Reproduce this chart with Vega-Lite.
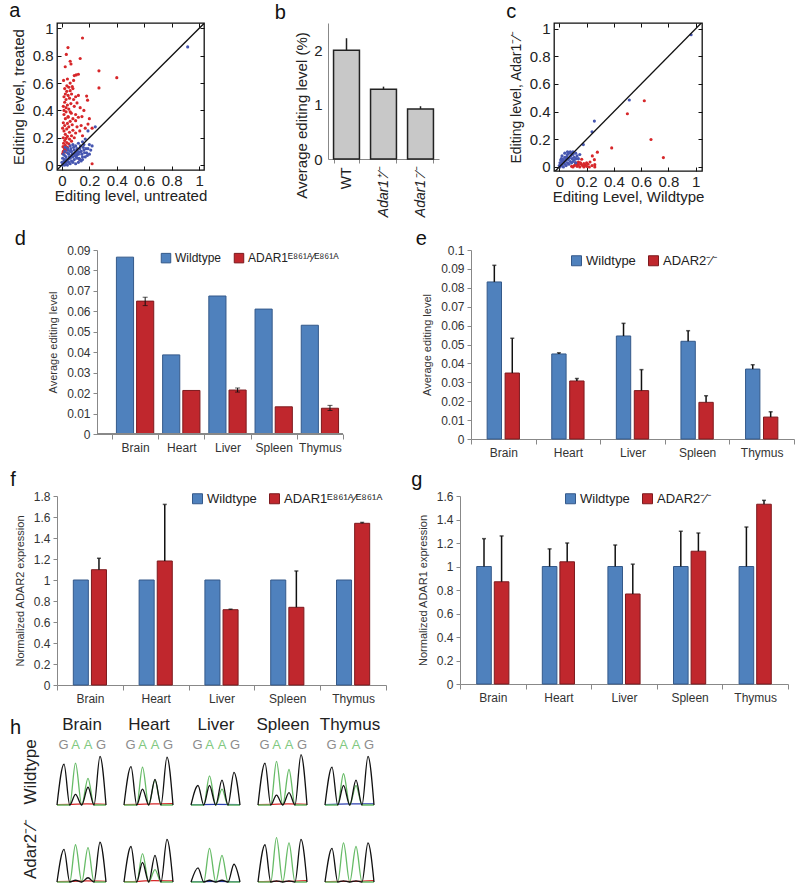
{
"$schema":"https://vega.github.io/schema/vega-lite/v6.json",
"padding":{"left":8,"top":0,"right":4,"bottom":2},
"config":{"font":"Liberation Sans","view":{"stroke":null},"axis":{"grid":false,"labelColor":"#222","titleColor":"#222","titleFontWeight":"normal"},"title":{"fontWeight":"normal","color":"#111"}},
"datasets":{
"sa":[{"x":0.15,"y":0.93,"g":"r"},{"x":0.044,"y":0.86,"g":"r"},{"x":0.032,"y":0.81,"g":"r"},{"x":0.06,"y":0.76,"g":"r"},{"x":0.066,"y":0.74,"g":"r"},{"x":0.133,"y":0.78,"g":"r"},{"x":0.024,"y":0.72,"g":"r"},{"x":0.104,"y":0.66,"g":"r"},{"x":0.12,"y":0.665,"g":"r"},{"x":0.09,"y":0.655,"g":"r"},{"x":0.27,"y":0.69,"g":"r"},{"x":0.4,"y":0.64,"g":"r"},{"x":0.012,"y":0.62,"g":"r"},{"x":0.06,"y":0.6,"g":"r"},{"x":0.27,"y":0.565,"g":"r"},{"x":0.036,"y":0.58,"g":"r"},{"x":0.05,"y":0.57,"g":"r"},{"x":0.075,"y":0.575,"g":"r"},{"x":0.02,"y":0.56,"g":"r"},{"x":0.035,"y":0.54,"g":"r"},{"x":0.06,"y":0.545,"g":"r"},{"x":0.025,"y":0.52,"g":"r"},{"x":0.045,"y":0.51,"g":"r"},{"x":0.015,"y":0.5,"g":"r"},{"x":0.03,"y":0.48,"g":"r"},{"x":0.055,"y":0.49,"g":"r"},{"x":0.12,"y":0.51,"g":"r"},{"x":0.18,"y":0.505,"g":"r"},{"x":0.187,"y":0.475,"g":"r"},{"x":0.085,"y":0.48,"g":"r"},{"x":0.11,"y":0.455,"g":"r"},{"x":0.02,"y":0.46,"g":"r"},{"x":0.04,"y":0.44,"g":"r"},{"x":0.065,"y":0.45,"g":"r"},{"x":0.01,"y":0.43,"g":"r"},{"x":0.03,"y":0.42,"g":"r"},{"x":0.133,"y":0.42,"g":"r"},{"x":0.05,"y":0.41,"g":"r"},{"x":0.068,"y":0.38,"g":"r"},{"x":0.1,"y":0.37,"g":"r"},{"x":0.03,"y":0.39,"g":"r"},{"x":0.015,"y":0.37,"g":"r"},{"x":0.146,"y":0.355,"g":"r"},{"x":0.12,"y":0.35,"g":"r"},{"x":0.045,"y":0.355,"g":"r"},{"x":0.08,"y":0.34,"g":"r"},{"x":0.025,"y":0.34,"g":"r"},{"x":0.06,"y":0.32,"g":"r"},{"x":0.1,"y":0.325,"g":"r"},{"x":0.01,"y":0.31,"g":"r"},{"x":0.04,"y":0.305,"g":"r"},{"x":0.19,"y":0.3,"g":"r"},{"x":0.075,"y":0.295,"g":"r"},{"x":0.02,"y":0.29,"g":"r"},{"x":0.05,"y":0.28,"g":"r"},{"x":0.17,"y":0.27,"g":"r"},{"x":0.11,"y":0.28,"g":"r"},{"x":0.035,"y":0.265,"g":"r"},{"x":0.08,"y":0.255,"g":"r"},{"x":0.13,"y":0.25,"g":"r"},{"x":0.015,"y":0.25,"g":"r"},{"x":0.055,"y":0.24,"g":"r"},{"x":0.1,"y":0.235,"g":"r"},{"x":0.025,"y":0.225,"g":"r"},{"x":0.07,"y":0.215,"g":"r"},{"x":0.04,"y":0.21,"g":"r"},{"x":0.15,"y":0.215,"g":"r"},{"x":0.01,"y":0.2,"g":"r"},{"x":0.09,"y":0.2,"g":"r"},{"x":0.03,"y":0.195,"g":"r"},{"x":0.055,"y":0.19,"g":"r"},{"x":0.02,"y":0.18,"g":"r"},{"x":0.07,"y":0.175,"g":"r"},{"x":0.035,"y":0.165,"g":"r"},{"x":0.012,"y":0.16,"g":"r"},{"x":0.05,"y":0.155,"g":"r"},{"x":0.025,"y":0.145,"g":"r"},{"x":0.008,"y":0.135,"g":"r"},{"x":0.04,"y":0.13,"g":"r"},{"x":0.018,"y":0.12,"g":"r"},{"x":0.03,"y":0.11,"g":"r"},{"x":0.01,"y":0.1,"g":"r"},{"x":0.022,"y":0.095,"g":"r"},{"x":0.005,"y":0.085,"g":"r"},{"x":0.22,"y":0.01,"g":"r"},{"x":0.13,"y":0.04,"g":"r"},{"x":0.085,"y":0.62,"g":"r"},{"x":0.04,"y":0.63,"g":"r"},{"x":0.07,"y":0.52,"g":"r"},{"x":0.09,"y":0.43,"g":"r"},{"x":0.16,"y":0.4,"g":"r"},{"x":0.2,"y":0.34,"g":"r"},{"x":0.14,"y":0.29,"g":"r"},{"x":0.22,"y":0.27,"g":"r"},{"x":0.08,"y":0.56,"g":"r"},{"x":0.1,"y":0.5,"g":"r"},{"x":0.015,"y":0.4,"g":"r"},{"x":0.06,"y":0.39,"g":"r"},{"x":0.005,"y":0.27,"g":"r"},{"x":0.045,"y":0.35,"g":"r"},
{"x":0.917,"y":0.865,"g":"b"},{"x":0.19,"y":0.25,"g":"b"},{"x":0.243,"y":0.28,"g":"b"},{"x":0.22,"y":0.14,"g":"b"},{"x":0.17,"y":0.19,"g":"b"},{"x":0.15,"y":0.17,"g":"b"},{"x":0.12,"y":0.16,"g":"b"},{"x":0.1,"y":0.14,"g":"b"},{"x":0.08,"y":0.15,"g":"b"},{"x":0.06,"y":0.14,"g":"b"},{"x":0.04,"y":0.12,"g":"b"},{"x":0.02,"y":0.1,"g":"b"},{"x":0.01,"y":0.08,"g":"b"},{"x":0.005,"y":0.05,"g":"b"},{"x":0.0,"y":0.02,"g":"b"},{"x":0.02,"y":0.04,"g":"b"},{"x":0.03,"y":0.06,"g":"b"},{"x":0.05,"y":0.08,"g":"b"},{"x":0.07,"y":0.1,"g":"b"},{"x":0.09,"y":0.11,"g":"b"},{"x":0.11,"y":0.12,"g":"b"},{"x":0.13,"y":0.12,"g":"b"},{"x":0.14,"y":0.1,"g":"b"},{"x":0.16,"y":0.11,"g":"b"},{"x":0.18,"y":0.09,"g":"b"},{"x":0.2,"y":0.08,"g":"b"},{"x":0.15,"y":0.06,"g":"b"},{"x":0.12,"y":0.08,"g":"b"},{"x":0.1,"y":0.09,"g":"b"},{"x":0.08,"y":0.06,"g":"b"},{"x":0.06,"y":0.05,"g":"b"},{"x":0.04,"y":0.03,"g":"b"},{"x":0.03,"y":0.01,"g":"b"},{"x":0.05,"y":0.02,"g":"b"},{"x":0.07,"y":0.03,"g":"b"},{"x":0.09,"y":0.04,"g":"b"},{"x":0.11,"y":0.05,"g":"b"},{"x":0.13,"y":0.04,"g":"b"},{"x":0.17,"y":0.06,"g":"b"},{"x":0.14,"y":0.03,"g":"b"},{"x":0.12,"y":0.02,"g":"b"},{"x":0.1,"y":0.01,"g":"b"},{"x":0.08,"y":0.02,"g":"b"},{"x":0.06,"y":0.1,"g":"b"},{"x":0.04,"y":0.09,"g":"b"},{"x":0.02,"y":0.07,"g":"b"},{"x":0.015,"y":0.03,"g":"b"},{"x":0.035,"y":0.04,"g":"b"},{"x":0.055,"y":0.06,"g":"b"},{"x":0.075,"y":0.08,"g":"b"},{"x":0.095,"y":0.07,"g":"b"},{"x":0.115,"y":0.1,"g":"b"},{"x":0.135,"y":0.14,"g":"b"},{"x":0.155,"y":0.13,"g":"b"},{"x":0.175,"y":0.12,"g":"b"},{"x":0.025,"y":0.13,"g":"b"},{"x":0.045,"y":0.11,"g":"b"},{"x":0.065,"y":0.12,"g":"b"},{"x":0.085,"y":0.13,"g":"b"},{"x":0.105,"y":0.06,"g":"b"},{"x":0.125,"y":0.05,"g":"b"},{"x":0.145,"y":0.08,"g":"b"},{"x":0.165,"y":0.09,"g":"b"},{"x":0.185,"y":0.07,"g":"b"},{"x":0.21,"y":0.11,"g":"b"},{"x":0.01,"y":0.01,"g":"b"},{"x":0.005,"y":0.0,"g":"b"},{"x":0.02,"y":0.0,"g":"b"},{"x":0.04,"y":0.0,"g":"b"},{"x":0.06,"y":0.01,"g":"b"},{"x":0.03,"y":0.025,"g":"b"},{"x":0.05,"y":0.045,"g":"b"},{"x":0.07,"y":0.065,"g":"b"},{"x":0.09,"y":0.085,"g":"b"},{"x":0.11,"y":0.075,"g":"b"},{"x":0.13,"y":0.095,"g":"b"},{"x":0.15,"y":0.04,"g":"b"},{"x":0.19,"y":0.12,"g":"b"},{"x":0.2,"y":0.15,"g":"b"},{"x":0.16,"y":0.15,"g":"b"}],
"sc":[{"x":0.623,"y":0.479,"g":"r"},{"x":0.499,"y":0.385,"g":"r"},{"x":0.672,"y":0.199,"g":"r"},{"x":0.763,"y":0.068,"g":"r"},{"x":0.384,"y":0.138,"g":"r"},{"x":0.279,"y":0.107,"g":"r"},{"x":0.242,"y":0.08,"g":"r"},{"x":0.257,"y":0.053,"g":"r"},{"x":0.225,"y":0.036,"g":"r"},{"x":0.26,"y":0.017,"g":"r"},{"x":0.164,"y":0.056,"g":"r"},{"x":0.1,"y":0.0,"g":"r"},{"x":0.11,"y":0.01,"g":"r"},{"x":0.12,"y":0.02,"g":"r"},{"x":0.13,"y":0.005,"g":"r"},{"x":0.14,"y":0.015,"g":"r"},{"x":0.15,"y":0.0,"g":"r"},{"x":0.16,"y":0.02,"g":"r"},{"x":0.17,"y":0.01,"g":"r"},{"x":0.18,"y":0.0,"g":"r"},{"x":0.19,"y":0.015,"g":"r"},{"x":0.2,"y":0.005,"g":"r"},{"x":0.21,"y":0.02,"g":"r"},{"x":0.22,"y":0.0,"g":"r"},{"x":0.12,"y":0.03,"g":"r"},{"x":0.14,"y":0.035,"g":"r"},{"x":0.155,"y":0.03,"g":"r"},{"x":0.18,"y":0.025,"g":"r"},{"x":0.2,"y":0.03,"g":"r"},{"x":0.26,"y":0.0,"g":"r"},{"x":0.24,"y":0.01,"g":"r"},{"x":0.09,"y":0.005,"g":"r"},{"x":0.13,"y":0.025,"g":"r"},
{"x":0.966,"y":0.956,"g":"b"},{"x":0.513,"y":0.484,"g":"b"},{"x":0.257,"y":0.332,"g":"b"},{"x":0.24,"y":0.254,"g":"b"},{"x":0.176,"y":0.162,"g":"b"},{"x":0.005,"y":0.0,"g":"b"},{"x":0.01,"y":0.02,"g":"b"},{"x":0.02,"y":0.04,"g":"b"},{"x":0.015,"y":0.06,"g":"b"},{"x":0.03,"y":0.05,"g":"b"},{"x":0.04,"y":0.07,"g":"b"},{"x":0.05,"y":0.06,"g":"b"},{"x":0.06,"y":0.09,"g":"b"},{"x":0.07,"y":0.1,"g":"b"},{"x":0.08,"y":0.11,"g":"b"},{"x":0.09,"y":0.1,"g":"b"},{"x":0.1,"y":0.09,"g":"b"},{"x":0.12,"y":0.1,"g":"b"},{"x":0.13,"y":0.08,"g":"b"},{"x":0.15,"y":0.09,"g":"b"},{"x":0.14,"y":0.06,"g":"b"},{"x":0.11,"y":0.05,"g":"b"},{"x":0.08,"y":0.04,"g":"b"},{"x":0.06,"y":0.03,"g":"b"},{"x":0.04,"y":0.02,"g":"b"},{"x":0.02,"y":0.01,"g":"b"},{"x":0.03,"y":0.0,"g":"b"},{"x":0.05,"y":0.01,"g":"b"},{"x":0.07,"y":0.02,"g":"b"},{"x":0.09,"y":0.03,"g":"b"},{"x":0.1,"y":0.04,"g":"b"},{"x":0.12,"y":0.03,"g":"b"},{"x":0.015,"y":0.03,"g":"b"},{"x":0.025,"y":0.055,"g":"b"},{"x":0.035,"y":0.035,"g":"b"},{"x":0.045,"y":0.045,"g":"b"},{"x":0.055,"y":0.075,"g":"b"},{"x":0.065,"y":0.055,"g":"b"},{"x":0.075,"y":0.065,"g":"b"},{"x":0.085,"y":0.08,"g":"b"},{"x":0.095,"y":0.06,"g":"b"},{"x":0.11,"y":0.07,"g":"b"},{"x":0.125,"y":0.06,"g":"b"},{"x":0.02,"y":0.08,"g":"b"},{"x":0.01,"y":0.05,"g":"b"},{"x":0.04,"y":0.1,"g":"b"},{"x":0.06,"y":0.11,"g":"b"},{"x":0.1,"y":0.11,"g":"b"},{"x":0.005,"y":0.03,"g":"b"},{"x":0.0,"y":0.01,"g":"b"}],
"sb":[{"g":"WT","v":2.0,"hi":2.22},{"g":"Adar1⁺⁄⁻","v":1.28,"hi":1.33},{"g":"Adar1⁻⁄⁻","v":0.92,"hi":0.97}],
"sd":[{"t":"Brain","g":"Wildtype","v":0.0865},{"t":"Brain","g":"ADAR1","v":0.065,"lo":0.0628,"hi":0.0669},{"t":"Heart","g":"Wildtype","v":0.0387},{"t":"Heart","g":"ADAR1","v":0.0213},{"t":"Liver","g":"Wildtype","v":0.0675},{"t":"Liver","g":"ADAR1","v":0.0215,"lo":0.0205,"hi":0.0225},{"t":"Spleen","g":"Wildtype","v":0.0611},{"t":"Spleen","g":"ADAR1","v":0.0133},{"t":"Thymus","g":"Wildtype","v":0.0532},{"t":"Thymus","g":"ADAR1","v":0.0126,"lo":0.0115,"hi":0.014}],
"se":[{"t":"Brain","g":"Wildtype","v":0.0831,"hi":0.0919},{"t":"Brain","g":"ADAR2","v":0.0349,"hi":0.0533},{"t":"Heart","g":"Wildtype","v":0.045,"hi":0.0456},{"t":"Heart","g":"ADAR2","v":0.0307,"hi":0.032},{"t":"Liver","g":"Wildtype","v":0.0545,"hi":0.0612},{"t":"Liver","g":"ADAR2","v":0.0256,"hi":0.0367},{"t":"Spleen","g":"Wildtype","v":0.0517,"hi":0.0573},{"t":"Spleen","g":"ADAR2","v":0.0194,"hi":0.0229},{"t":"Thymus","g":"Wildtype","v":0.037,"hi":0.0393},{"t":"Thymus","g":"ADAR2","v":0.0116,"hi":0.0144}],
"sf":[{"t":"Brain","g":"Wildtype","v":1.0},{"t":"Brain","g":"ADAR1","v":1.098,"hi":1.207},{"t":"Heart","g":"Wildtype","v":1.0},{"t":"Heart","g":"ADAR1","v":1.181,"hi":1.72},{"t":"Liver","g":"Wildtype","v":1.0},{"t":"Liver","g":"ADAR1","v":0.717,"hi":0.722},{"t":"Spleen","g":"Wildtype","v":1.0},{"t":"Spleen","g":"ADAR1","v":0.74,"hi":1.086},{"t":"Thymus","g":"Wildtype","v":1.0},{"t":"Thymus","g":"ADAR1","v":1.54,"hi":1.548}],
"sg":[{"t":"Brain","g":"Wildtype","v":1.0,"hi":1.237},{"t":"Brain","g":"ADAR2","v":0.87,"hi":1.26},{"t":"Heart","g":"Wildtype","v":1.0,"hi":1.15},{"t":"Heart","g":"ADAR2","v":1.04,"hi":1.2},{"t":"Liver","g":"Wildtype","v":1.0,"hi":1.183},{"t":"Liver","g":"ADAR2","v":0.766,"hi":1.02},{"t":"Spleen","g":"Wildtype","v":1.0,"hi":1.3},{"t":"Spleen","g":"ADAR2","v":1.13,"hi":1.285},{"t":"Thymus","g":"Wildtype","v":1.0,"hi":1.336},{"t":"Thymus","g":"ADAR2","v":1.53,"hi":1.563}],
"sh":[
{"k":"tr","ti":"Brain","ge":"W","ch":"T","t":0,"v":1},{"k":"tr","ti":"Brain","ge":"W","ch":"T","t":3,"v":2},{"k":"tr","ti":"Brain","ge":"W","ch":"T","t":6,"v":3},{"k":"tr","ti":"Brain","ge":"W","ch":"T","t":9.8,"v":2},
{"k":"tr","ti":"Brain","ge":"W","ch":"A","t":0,"v":0},{"k":"tr","ti":"Brain","ge":"W","ch":"A","t":2.55,"v":0},{"k":"tr","ti":"Brain","ge":"W","ch":"A","t":3.7,"v":118},{"k":"tr","ti":"Brain","ge":"W","ch":"A","t":4.95,"v":0},{"k":"tr","ti":"Brain","ge":"W","ch":"A","t":6.2,"v":75},{"k":"tr","ti":"Brain","ge":"W","ch":"A","t":7.4,"v":0},{"k":"tr","ti":"Brain","ge":"W","ch":"A","t":9.8,"v":0},
{"k":"tr","ti":"Brain","ge":"W","ch":"G","t":0,"v":0},{"k":"tr","ti":"Brain","ge":"W","ch":"G","t":1.4,"v":115},{"k":"tr","ti":"Brain","ge":"W","ch":"G","t":2.55,"v":0},{"k":"tr","ti":"Brain","ge":"W","ch":"G","t":3.7,"v":30},{"k":"tr","ti":"Brain","ge":"W","ch":"G","t":4.95,"v":0},{"k":"tr","ti":"Brain","ge":"W","ch":"G","t":6.2,"v":50},{"k":"tr","ti":"Brain","ge":"W","ch":"G","t":7.4,"v":0},{"k":"tr","ti":"Brain","ge":"W","ch":"G","t":8.6,"v":137},{"k":"tr","ti":"Brain","ge":"W","ch":"G","t":9.8,"v":0},
{"k":"tr","ti":"Heart","ge":"W","ch":"T","t":0,"v":1},{"k":"tr","ti":"Heart","ge":"W","ch":"T","t":3,"v":2},{"k":"tr","ti":"Heart","ge":"W","ch":"T","t":6,"v":3},{"k":"tr","ti":"Heart","ge":"W","ch":"T","t":9.8,"v":4},
{"k":"tr","ti":"Heart","ge":"W","ch":"A","t":0,"v":0},{"k":"tr","ti":"Heart","ge":"W","ch":"A","t":2.55,"v":0},{"k":"tr","ti":"Heart","ge":"W","ch":"A","t":3.7,"v":107},{"k":"tr","ti":"Heart","ge":"W","ch":"A","t":4.95,"v":0},{"k":"tr","ti":"Heart","ge":"W","ch":"A","t":6.2,"v":70},{"k":"tr","ti":"Heart","ge":"W","ch":"A","t":7.4,"v":0},{"k":"tr","ti":"Heart","ge":"W","ch":"A","t":9.8,"v":0},
{"k":"tr","ti":"Heart","ge":"W","ch":"G","t":0,"v":0},{"k":"tr","ti":"Heart","ge":"W","ch":"G","t":1.4,"v":108},{"k":"tr","ti":"Heart","ge":"W","ch":"G","t":2.55,"v":0},{"k":"tr","ti":"Heart","ge":"W","ch":"G","t":3.7,"v":45},{"k":"tr","ti":"Heart","ge":"W","ch":"G","t":4.95,"v":0},{"k":"tr","ti":"Heart","ge":"W","ch":"G","t":6.2,"v":72},{"k":"tr","ti":"Heart","ge":"W","ch":"G","t":7.4,"v":0},{"k":"tr","ti":"Heart","ge":"W","ch":"G","t":8.6,"v":135},{"k":"tr","ti":"Heart","ge":"W","ch":"G","t":9.8,"v":0},
{"k":"tr","ti":"Liver","ge":"W","ch":"C","t":0,"v":1},{"k":"tr","ti":"Liver","ge":"W","ch":"C","t":5,"v":1.5},{"k":"tr","ti":"Liver","ge":"W","ch":"C","t":9.8,"v":1},
{"k":"tr","ti":"Liver","ge":"W","ch":"A","t":0,"v":0},{"k":"tr","ti":"Liver","ge":"W","ch":"A","t":2.55,"v":0},{"k":"tr","ti":"Liver","ge":"W","ch":"A","t":3.7,"v":82},{"k":"tr","ti":"Liver","ge":"W","ch":"A","t":4.95,"v":0},{"k":"tr","ti":"Liver","ge":"W","ch":"A","t":6.2,"v":45},{"k":"tr","ti":"Liver","ge":"W","ch":"A","t":7.4,"v":0},{"k":"tr","ti":"Liver","ge":"W","ch":"A","t":9.8,"v":0},
{"k":"tr","ti":"Liver","ge":"W","ch":"G","t":0,"v":0},{"k":"tr","ti":"Liver","ge":"W","ch":"G","t":1.4,"v":55},{"k":"tr","ti":"Liver","ge":"W","ch":"G","t":2.55,"v":0},{"k":"tr","ti":"Liver","ge":"W","ch":"G","t":3.7,"v":55},{"k":"tr","ti":"Liver","ge":"W","ch":"G","t":4.95,"v":0},{"k":"tr","ti":"Liver","ge":"W","ch":"G","t":6.2,"v":70},{"k":"tr","ti":"Liver","ge":"W","ch":"G","t":7.4,"v":0},{"k":"tr","ti":"Liver","ge":"W","ch":"G","t":8.6,"v":92},{"k":"tr","ti":"Liver","ge":"W","ch":"G","t":9.8,"v":0},
{"k":"tr","ti":"Spleen","ge":"W","ch":"T","t":0,"v":1},{"k":"tr","ti":"Spleen","ge":"W","ch":"T","t":3,"v":2},{"k":"tr","ti":"Spleen","ge":"W","ch":"T","t":6,"v":3},{"k":"tr","ti":"Spleen","ge":"W","ch":"T","t":9.8,"v":2},
{"k":"tr","ti":"Spleen","ge":"W","ch":"A","t":0,"v":0},{"k":"tr","ti":"Spleen","ge":"W","ch":"A","t":2.55,"v":0},{"k":"tr","ti":"Spleen","ge":"W","ch":"A","t":3.7,"v":123},{"k":"tr","ti":"Spleen","ge":"W","ch":"A","t":4.95,"v":0},{"k":"tr","ti":"Spleen","ge":"W","ch":"A","t":6.2,"v":100},{"k":"tr","ti":"Spleen","ge":"W","ch":"A","t":7.4,"v":0},{"k":"tr","ti":"Spleen","ge":"W","ch":"A","t":9.8,"v":0},
{"k":"tr","ti":"Spleen","ge":"W","ch":"G","t":0,"v":0},{"k":"tr","ti":"Spleen","ge":"W","ch":"G","t":1.4,"v":118},{"k":"tr","ti":"Spleen","ge":"W","ch":"G","t":2.55,"v":0},{"k":"tr","ti":"Spleen","ge":"W","ch":"G","t":3.7,"v":28},{"k":"tr","ti":"Spleen","ge":"W","ch":"G","t":4.95,"v":0},{"k":"tr","ti":"Spleen","ge":"W","ch":"G","t":6.2,"v":35},{"k":"tr","ti":"Spleen","ge":"W","ch":"G","t":7.4,"v":0},{"k":"tr","ti":"Spleen","ge":"W","ch":"G","t":8.6,"v":142},{"k":"tr","ti":"Spleen","ge":"W","ch":"G","t":9.8,"v":0},
{"k":"tr","ti":"Thymus","ge":"W","ch":"C","t":0,"v":1},{"k":"tr","ti":"Thymus","ge":"W","ch":"C","t":5,"v":3},{"k":"tr","ti":"Thymus","ge":"W","ch":"C","t":9.8,"v":3},
{"k":"tr","ti":"Thymus","ge":"W","ch":"A","t":0,"v":0},{"k":"tr","ti":"Thymus","ge":"W","ch":"A","t":2.55,"v":0},{"k":"tr","ti":"Thymus","ge":"W","ch":"A","t":3.7,"v":88},{"k":"tr","ti":"Thymus","ge":"W","ch":"A","t":4.95,"v":0},{"k":"tr","ti":"Thymus","ge":"W","ch":"A","t":6.2,"v":55},{"k":"tr","ti":"Thymus","ge":"W","ch":"A","t":7.4,"v":0},{"k":"tr","ti":"Thymus","ge":"W","ch":"A","t":9.8,"v":0},
{"k":"tr","ti":"Thymus","ge":"W","ch":"G","t":0,"v":0},{"k":"tr","ti":"Thymus","ge":"W","ch":"G","t":1.4,"v":107},{"k":"tr","ti":"Thymus","ge":"W","ch":"G","t":2.55,"v":0},{"k":"tr","ti":"Thymus","ge":"W","ch":"G","t":3.7,"v":55},{"k":"tr","ti":"Thymus","ge":"W","ch":"G","t":4.95,"v":0},{"k":"tr","ti":"Thymus","ge":"W","ch":"G","t":6.2,"v":70},{"k":"tr","ti":"Thymus","ge":"W","ch":"G","t":7.4,"v":0},{"k":"tr","ti":"Thymus","ge":"W","ch":"G","t":8.6,"v":137},{"k":"tr","ti":"Thymus","ge":"W","ch":"G","t":9.8,"v":0},
{"k":"tr","ti":"Brain","ge":"K","ch":"T","t":0,"v":1},{"k":"tr","ti":"Brain","ge":"K","ch":"T","t":3,"v":2},{"k":"tr","ti":"Brain","ge":"K","ch":"T","t":6,"v":3},{"k":"tr","ti":"Brain","ge":"K","ch":"T","t":9.8,"v":2},
{"k":"tr","ti":"Brain","ge":"K","ch":"A","t":0,"v":0},{"k":"tr","ti":"Brain","ge":"K","ch":"A","t":2.55,"v":0},{"k":"tr","ti":"Brain","ge":"K","ch":"A","t":3.7,"v":105},{"k":"tr","ti":"Brain","ge":"K","ch":"A","t":4.95,"v":0},{"k":"tr","ti":"Brain","ge":"K","ch":"A","t":6.2,"v":97},{"k":"tr","ti":"Brain","ge":"K","ch":"A","t":7.4,"v":0},{"k":"tr","ti":"Brain","ge":"K","ch":"A","t":9.8,"v":0},
{"k":"tr","ti":"Brain","ge":"K","ch":"G","t":0,"v":0},{"k":"tr","ti":"Brain","ge":"K","ch":"G","t":1.4,"v":92},{"k":"tr","ti":"Brain","ge":"K","ch":"G","t":2.55,"v":0},{"k":"tr","ti":"Brain","ge":"K","ch":"G","t":3.7,"v":5},{"k":"tr","ti":"Brain","ge":"K","ch":"G","t":4.95,"v":0},{"k":"tr","ti":"Brain","ge":"K","ch":"G","t":6.2,"v":12},{"k":"tr","ti":"Brain","ge":"K","ch":"G","t":7.4,"v":0},{"k":"tr","ti":"Brain","ge":"K","ch":"G","t":8.6,"v":112},{"k":"tr","ti":"Brain","ge":"K","ch":"G","t":9.8,"v":0},
{"k":"tr","ti":"Heart","ge":"K","ch":"T","t":0,"v":1},{"k":"tr","ti":"Heart","ge":"K","ch":"T","t":3,"v":2},{"k":"tr","ti":"Heart","ge":"K","ch":"T","t":6,"v":4},{"k":"tr","ti":"Heart","ge":"K","ch":"T","t":9.8,"v":3},
{"k":"tr","ti":"Heart","ge":"K","ch":"A","t":0,"v":0},{"k":"tr","ti":"Heart","ge":"K","ch":"A","t":2.55,"v":0},{"k":"tr","ti":"Heart","ge":"K","ch":"A","t":3.7,"v":80},{"k":"tr","ti":"Heart","ge":"K","ch":"A","t":4.95,"v":0},{"k":"tr","ti":"Heart","ge":"K","ch":"A","t":6.2,"v":35},{"k":"tr","ti":"Heart","ge":"K","ch":"A","t":7.4,"v":0},{"k":"tr","ti":"Heart","ge":"K","ch":"A","t":9.8,"v":0},
{"k":"tr","ti":"Heart","ge":"K","ch":"G","t":0,"v":0},{"k":"tr","ti":"Heart","ge":"K","ch":"G","t":1.4,"v":100},{"k":"tr","ti":"Heart","ge":"K","ch":"G","t":2.55,"v":0},{"k":"tr","ti":"Heart","ge":"K","ch":"G","t":3.7,"v":55},{"k":"tr","ti":"Heart","ge":"K","ch":"G","t":4.95,"v":0},{"k":"tr","ti":"Heart","ge":"K","ch":"G","t":6.2,"v":75},{"k":"tr","ti":"Heart","ge":"K","ch":"G","t":7.4,"v":0},{"k":"tr","ti":"Heart","ge":"K","ch":"G","t":8.6,"v":120},{"k":"tr","ti":"Heart","ge":"K","ch":"G","t":9.8,"v":0},
{"k":"tr","ti":"Liver","ge":"K","ch":"C","t":0,"v":1},{"k":"tr","ti":"Liver","ge":"K","ch":"C","t":5,"v":2},{"k":"tr","ti":"Liver","ge":"K","ch":"C","t":9.8,"v":1},
{"k":"tr","ti":"Liver","ge":"K","ch":"A","t":0,"v":0},{"k":"tr","ti":"Liver","ge":"K","ch":"A","t":2.55,"v":0},{"k":"tr","ti":"Liver","ge":"K","ch":"A","t":3.7,"v":95},{"k":"tr","ti":"Liver","ge":"K","ch":"A","t":4.95,"v":0},{"k":"tr","ti":"Liver","ge":"K","ch":"A","t":6.2,"v":75},{"k":"tr","ti":"Liver","ge":"K","ch":"A","t":7.4,"v":0},{"k":"tr","ti":"Liver","ge":"K","ch":"A","t":9.8,"v":0},
{"k":"tr","ti":"Liver","ge":"K","ch":"G","t":0,"v":0},{"k":"tr","ti":"Liver","ge":"K","ch":"G","t":1.4,"v":40},{"k":"tr","ti":"Liver","ge":"K","ch":"G","t":2.55,"v":0},{"k":"tr","ti":"Liver","ge":"K","ch":"G","t":3.7,"v":5},{"k":"tr","ti":"Liver","ge":"K","ch":"G","t":4.95,"v":0},{"k":"tr","ti":"Liver","ge":"K","ch":"G","t":6.2,"v":5},{"k":"tr","ti":"Liver","ge":"K","ch":"G","t":7.4,"v":0},{"k":"tr","ti":"Liver","ge":"K","ch":"G","t":8.6,"v":50},{"k":"tr","ti":"Liver","ge":"K","ch":"G","t":9.8,"v":0},
{"k":"tr","ti":"Spleen","ge":"K","ch":"T","t":0,"v":1},{"k":"tr","ti":"Spleen","ge":"K","ch":"T","t":3,"v":2},{"k":"tr","ti":"Spleen","ge":"K","ch":"T","t":6,"v":2},{"k":"tr","ti":"Spleen","ge":"K","ch":"T","t":9.8,"v":4},
{"k":"tr","ti":"Spleen","ge":"K","ch":"A","t":0,"v":0},{"k":"tr","ti":"Spleen","ge":"K","ch":"A","t":2.55,"v":0},{"k":"tr","ti":"Spleen","ge":"K","ch":"A","t":3.7,"v":125},{"k":"tr","ti":"Spleen","ge":"K","ch":"A","t":4.95,"v":0},{"k":"tr","ti":"Spleen","ge":"K","ch":"A","t":6.2,"v":110},{"k":"tr","ti":"Spleen","ge":"K","ch":"A","t":7.4,"v":0},{"k":"tr","ti":"Spleen","ge":"K","ch":"A","t":9.8,"v":0},
{"k":"tr","ti":"Spleen","ge":"K","ch":"G","t":0,"v":0},{"k":"tr","ti":"Spleen","ge":"K","ch":"G","t":1.4,"v":105},{"k":"tr","ti":"Spleen","ge":"K","ch":"G","t":2.55,"v":0},{"k":"tr","ti":"Spleen","ge":"K","ch":"G","t":3.7,"v":3},{"k":"tr","ti":"Spleen","ge":"K","ch":"G","t":4.95,"v":0},{"k":"tr","ti":"Spleen","ge":"K","ch":"G","t":6.2,"v":3},{"k":"tr","ti":"Spleen","ge":"K","ch":"G","t":7.4,"v":0},{"k":"tr","ti":"Spleen","ge":"K","ch":"G","t":8.6,"v":120},{"k":"tr","ti":"Spleen","ge":"K","ch":"G","t":9.8,"v":0},
{"k":"tr","ti":"Thymus","ge":"K","ch":"T","t":0,"v":1},{"k":"tr","ti":"Thymus","ge":"K","ch":"T","t":3,"v":2},{"k":"tr","ti":"Thymus","ge":"K","ch":"T","t":6,"v":2},{"k":"tr","ti":"Thymus","ge":"K","ch":"T","t":9.8,"v":4},
{"k":"tr","ti":"Thymus","ge":"K","ch":"A","t":0,"v":0},{"k":"tr","ti":"Thymus","ge":"K","ch":"A","t":2.55,"v":0},{"k":"tr","ti":"Thymus","ge":"K","ch":"A","t":3.7,"v":110},{"k":"tr","ti":"Thymus","ge":"K","ch":"A","t":4.95,"v":0},{"k":"tr","ti":"Thymus","ge":"K","ch":"A","t":6.2,"v":100},{"k":"tr","ti":"Thymus","ge":"K","ch":"A","t":7.4,"v":0},{"k":"tr","ti":"Thymus","ge":"K","ch":"A","t":9.8,"v":0},
{"k":"tr","ti":"Thymus","ge":"K","ch":"G","t":0,"v":0},{"k":"tr","ti":"Thymus","ge":"K","ch":"G","t":1.4,"v":95},{"k":"tr","ti":"Thymus","ge":"K","ch":"G","t":2.55,"v":0},{"k":"tr","ti":"Thymus","ge":"K","ch":"G","t":3.7,"v":3},{"k":"tr","ti":"Thymus","ge":"K","ch":"G","t":4.95,"v":0},{"k":"tr","ti":"Thymus","ge":"K","ch":"G","t":6.2,"v":3},{"k":"tr","ti":"Thymus","ge":"K","ch":"G","t":7.4,"v":0},{"k":"tr","ti":"Thymus","ge":"K","ch":"G","t":8.6,"v":110},{"k":"tr","ti":"Thymus","ge":"K","ch":"G","t":9.8,"v":0},
{"k":"lt","ti":"Brain","ge":"W","t":1.3,"v":159,"lab":"G"},{"k":"lt","ti":"Brain","ge":"W","t":3.7,"v":159,"lab":"A"},{"k":"lt","ti":"Brain","ge":"W","t":6.2,"v":159,"lab":"A"},{"k":"lt","ti":"Brain","ge":"W","t":8.8,"v":159,"lab":"G"},
{"k":"lt","ti":"Heart","ge":"W","t":1.3,"v":159,"lab":"G"},{"k":"lt","ti":"Heart","ge":"W","t":3.7,"v":159,"lab":"A"},{"k":"lt","ti":"Heart","ge":"W","t":6.2,"v":159,"lab":"A"},{"k":"lt","ti":"Heart","ge":"W","t":8.8,"v":159,"lab":"G"},
{"k":"lt","ti":"Liver","ge":"W","t":1.3,"v":159,"lab":"G"},{"k":"lt","ti":"Liver","ge":"W","t":3.7,"v":159,"lab":"A"},{"k":"lt","ti":"Liver","ge":"W","t":6.2,"v":159,"lab":"A"},{"k":"lt","ti":"Liver","ge":"W","t":8.8,"v":159,"lab":"G"},
{"k":"lt","ti":"Spleen","ge":"W","t":1.3,"v":159,"lab":"G"},{"k":"lt","ti":"Spleen","ge":"W","t":3.7,"v":159,"lab":"A"},{"k":"lt","ti":"Spleen","ge":"W","t":6.2,"v":159,"lab":"A"},{"k":"lt","ti":"Spleen","ge":"W","t":8.8,"v":159,"lab":"G"},
{"k":"lt","ti":"Thymus","ge":"W","t":1.3,"v":159,"lab":"G"},{"k":"lt","ti":"Thymus","ge":"W","t":3.7,"v":159,"lab":"A"},{"k":"lt","ti":"Thymus","ge":"W","t":6.2,"v":159,"lab":"A"},{"k":"lt","ti":"Thymus","ge":"W","t":8.8,"v":159,"lab":"G"}
]
},
"columns":1,
"spacing":12,
"align":"none",
"resolve":{"scale":{"color":"independent","stroke":"independent","xOffset":"independent"}},
"concat":[
{"hconcat":[
 {"width":147,"height":147,
  "title":{"text":"a","anchor":"start","frame":"bounds","fontSize":20,"offset":0,"dx":-2},
  "view":{"stroke":"#111","strokeWidth":1.3},
  "layer":[
   {"data":{"name":"sa"},"mark":{"type":"circle","size":10,"opacity":1},
    "encoding":{
     "x":{"field":"x","type":"quantitative","scale":{"domain":[-0.036,1.036],"nice":false,"zero":false},"axis":{"orient":"bottom","values":[0,0.2,0.4,0.6,0.8,1],"format":"~g","domain":false,"tickSize":-4,"tickColor":"#111","labelFontSize":15,"labelPadding":7,"title":"Editing level, untreated","titleFontSize":15,"titlePadding":0}},
     "y":{"field":"y","type":"quantitative","scale":{"domain":[-0.036,1.04],"nice":false,"zero":false},"axis":{"orient":"left","values":[0,0.2,0.4,0.6,0.8,1],"format":"~g","domain":false,"tickSize":-4,"tickColor":"#111","labelFontSize":15,"labelPadding":8,"title":"Editing level, treated","titleFontSize":15,"titlePadding":6}},
     "color":{"field":"g","type":"nominal","scale":{"domain":["r","b"],"range":["#d7272a","#4656b0"]},"legend":null}}},
   {"data":{"values":[{"x":-0.036,"y":-0.036},{"x":1.036,"y":1.036}]},"mark":{"type":"line","color":"#111","strokeWidth":1.3,"clip":true},
    "encoding":{
     "x":{"field":"x","type":"quantitative","axis":{"orient":"top","values":[0,0.2,0.4,0.6,0.8,1],"labels":false,"domain":false,"tickSize":-4,"tickColor":"#111","title":null}},
     "y":{"field":"y","type":"quantitative","axis":{"orient":"right","values":[0,0.2,0.4,0.6,0.8,1],"labels":false,"domain":false,"tickSize":-4,"tickColor":"#111","title":null}}}}
  ],
  "resolve":{"axis":{"x":"independent","y":"independent"}}},
 {"width":111,"height":136,
  "title":{"text":"b","anchor":"start","frame":"bounds","fontSize":20,"offset":0,"dx":-20},
  "data":{"name":"sb"},
  "encoding":{"x":{"field":"g","type":"nominal","sort":null,"scale":{"paddingInner":0.3,"paddingOuter":0.15},
     "axis":{"title":null,"labelAngle":-90,"labelFontSize":14,"labelColor":"#222","labelFontStyle":{"condition":{"test":"datum.value !== 'WT'","value":"italic"},"value":"normal"},"tickBand":"extent","tickSize":4,"domainColor":"#888","tickColor":"#888","labelPadding":4}}},
  "layer":[
   {"mark":{"type":"bar","fill":"#c8c8c8","stroke":"#222","strokeWidth":1.5},
    "encoding":{"y":{"field":"v","type":"quantitative","scale":{"domain":[0,2.5],"nice":false},"axis":{"values":[0,1,2],"format":"~g","labelFontSize":15,"title":"Average editing level (%)","titleFontSize":15,"titleY":92,"ticks":false,"domainColor":"#888","labelPadding":6}}}},
   {"mark":{"type":"rule","stroke":"#222","strokeWidth":1.5},
    "encoding":{"y":{"field":"v","type":"quantitative","axis":{"values":[0,1,2],"format":"~g","labelFontSize":15,"title":"Average editing level (%)","titleFontSize":15,"titleY":92,"ticks":false,"domainColor":"#888","labelPadding":6}},"y2":{"field":"hi"}}}
  ]},
 {"width":148,"height":148,
  "title":{"text":"c","anchor":"start","frame":"bounds","fontSize":20,"offset":0,"dx":-3},
  "view":{"stroke":"#111","strokeWidth":1.3},
  "layer":[
   {"data":{"name":"sc"},"mark":{"type":"circle","size":10,"opacity":1},
    "encoding":{
     "x":{"field":"x","type":"quantitative","scale":{"domain":[-0.039,1.046],"nice":false,"zero":false},"axis":{"orient":"bottom","values":[0,0.2,0.4,0.6,0.8,1],"format":"~g","domain":false,"tickSize":-4,"tickColor":"#111","labelFontSize":15,"labelPadding":7,"title":"Editing Level, Wildtype","titleFontSize":15,"titlePadding":0}},
     "y":{"field":"y","type":"quantitative","scale":{"domain":[-0.029,1.041],"nice":false,"zero":false},"axis":{"orient":"left","values":[0,0.2,0.4,0.6,0.8,1],"format":"~g","domain":false,"tickSize":-4,"tickColor":"#111","labelFontSize":15,"labelPadding":8,"title":"Editing level, Adar1⁻⁄⁻","titleFontSize":14,"titlePadding":6}},
     "color":{"field":"g","type":"nominal","scale":{"domain":["r","b"],"range":["#d7272a","#4656b0"]},"legend":null}}},
   {"data":{"values":[{"x":-0.029,"y":-0.029},{"x":1.041,"y":1.041}]},"mark":{"type":"line","color":"#111","strokeWidth":1.3,"clip":true},
    "encoding":{
     "x":{"field":"x","type":"quantitative","axis":{"orient":"top","values":[0,0.2,0.4,0.6,0.8,1],"labels":false,"domain":false,"tickSize":-4,"tickColor":"#111","title":null}},
     "y":{"field":"y","type":"quantitative","axis":{"orient":"right","values":[0,0.2,0.4,0.6,0.8,1],"labels":false,"domain":false,"tickSize":-4,"tickColor":"#111","title":null}}}}
  ],
  "resolve":{"axis":{"x":"independent","y":"independent"}}}
],"spacing":66,"resolve":{"scale":{"color":"independent"}}},
{"hconcat":[
 {"width":286,"height":184,
  "title":{"text":"d","anchor":"start","frame":"bounds","fontSize":20,"offset":-5,"dx":-33},
  "data":{"name":"sd"},
  "layer":[
   {"mark":{"type":"bar","strokeWidth":1},
    "encoding":{
     "x":{"field":"t","type":"nominal","sort":null,"scale":{"domain":["Brain","Heart","Liver","Spleen","Thymus"],"paddingInner":0,"paddingOuter":0.595,"align":1},"axis":{"title":null,"labelAngle":0,"tickBand":"extent","domain":false,"labelFontSize":12,"labelColor":"#333","tickColor":"#888","tickSize":5,"labelPadding":3}},
     "xOffset":{"field":"g","type":"nominal","sort":["Wildtype","ADAR1"],"scale":{"domain":["Wildtype","ADAR1"],"paddingInner":0.15,"paddingOuter":0.22}},
     "y":{"field":"v","type":"quantitative","scale":{"domain":[0,0.09],"nice":false},"axis":{"offset":-40,"values":[0,0.01,0.02,0.03,0.04,0.05,0.06,0.07,0.08,0.09],"format":".2~f","labelOverlap":false,"labelFontSize":12,"labelColor":"#333","domainColor":"#888","tickColor":"#888","tickSize":4,"title":"Average editing level","titleFontSize":11,"titleColor":"#333","labelPadding":3,"titlePadding":8}},
     "color":{"field":"g","type":"nominal","scale":{"domain":["Wildtype","ADAR1"],"range":["#4f81bd","#c0272d"]},"legend":{"orient":"none","legendX":103,"legendY":2,"direction":"horizontal","title":null,"labelFontSize":12,"labelColor":"#222","symbolType":"square","symbolSize":90,"symbolStrokeWidth":1,"symbolStrokeColor":"#333","columnPadding":10,"labelOffset":3,"labelExpr":"datum.label == 'ADAR1' ? 'ADAR1ᴱ⁸⁶¹ᴬ⁄ᴱ⁸⁶¹ᴬ' : datum.label"}},
     "stroke":{"field":"g","type":"nominal","scale":{"domain":["Wildtype","ADAR1"],"range":["#34598a","#7d1a1e"]},"legend":null}}},
   {"transform":[{"filter":"isValid(datum.hi)"}],"mark":{"type":"rule","color":"#111","strokeWidth":1},
    "encoding":{
     "x":{"field":"t","type":"nominal","sort":null,"scale":{"domain":["Brain","Heart","Liver","Spleen","Thymus"],"paddingInner":0,"paddingOuter":0.595,"align":1},"axis":null},
     "xOffset":{"field":"g","type":"nominal","sort":["Wildtype","ADAR1"],"scale":{"domain":["Wildtype","ADAR1"],"paddingInner":0.15,"paddingOuter":0.22}},
     "y":{"field":"lo","type":"quantitative","axis":{"offset":-40,"values":[0,0.01,0.02,0.03,0.04,0.05,0.06,0.07,0.08,0.09],"format":".2~f","labelOverlap":false,"labelFontSize":12,"labelColor":"#333","domainColor":"#888","tickColor":"#888","tickSize":4,"title":"Average editing level","titleFontSize":11,"titleColor":"#333","labelPadding":3,"titlePadding":8}},"y2":{"field":"hi"}}},
   {"transform":[{"filter":"isValid(datum.hi)"}],"mark":{"type":"tick","color":"#111","size":5,"thickness":1},
    "encoding":{
     "x":{"field":"t","type":"nominal","sort":null,"scale":{"domain":["Brain","Heart","Liver","Spleen","Thymus"],"paddingInner":0,"paddingOuter":0.595,"align":1},"axis":null},
     "xOffset":{"field":"g","type":"nominal","sort":["Wildtype","ADAR1"],"scale":{"domain":["Wildtype","ADAR1"],"paddingInner":0.15,"paddingOuter":0.22}},
     "y":{"field":"hi","type":"quantitative","axis":{"offset":-40,"values":[0,0.01,0.02,0.03,0.04,0.05,0.06,0.07,0.08,0.09],"format":".2~f","labelOverlap":false,"labelFontSize":12,"labelColor":"#333","domainColor":"#888","tickColor":"#888","tickSize":4,"title":"Average editing level","titleFontSize":11,"titleColor":"#333","labelPadding":3,"titlePadding":8}}}},
   {"transform":[{"filter":"isValid(datum.lo)"}],"mark":{"type":"tick","color":"#111","size":5,"thickness":1},
    "encoding":{
     "x":{"field":"t","type":"nominal","sort":null,"scale":{"domain":["Brain","Heart","Liver","Spleen","Thymus"],"paddingInner":0,"paddingOuter":0.595,"align":1},"axis":null},
     "xOffset":{"field":"g","type":"nominal","sort":["Wildtype","ADAR1"],"scale":{"domain":["Wildtype","ADAR1"],"paddingInner":0.15,"paddingOuter":0.22}},
     "y":{"field":"lo","type":"quantitative","axis":{"offset":-40,"values":[0,0.01,0.02,0.03,0.04,0.05,0.06,0.07,0.08,0.09],"format":".2~f","labelOverlap":false,"labelFontSize":12,"labelColor":"#333","domainColor":"#888","tickColor":"#888","tickSize":4,"title":"Average editing level","titleFontSize":11,"titleColor":"#333","labelPadding":3,"titlePadding":8}}}},
   {"mark":{"type":"rule","color":"#888","strokeWidth":1},
    "encoding":{
     "x":{"datum":0.14,"type":"quantitative","scale":{"domain":[0,1],"nice":false,"zero":false},"axis":null},
     "x2":{"datum":1},
     "y":{"datum":0,"type":"quantitative","axis":{"offset":-40,"values":[0,0.01,0.02,0.03,0.04,0.05,0.06,0.07,0.08,0.09],"format":".2~f","labelOverlap":false,"labelFontSize":12,"labelColor":"#333","domainColor":"#888","tickColor":"#888","tickSize":4,"title":"Average editing level","titleFontSize":11,"titleColor":"#333","labelPadding":3,"titlePadding":8}}}}
  ],
  "resolve":{"scale":{"x":"independent"},"axis":{"x":"independent"}}},
 {"width":323,"height":189,
  "title":{"text":"e","anchor":"start","frame":"bounds","fontSize":20,"offset":-5,"dx":-6},
  "data":{"name":"se"},
  "encoding":{"x":{"field":"t","type":"nominal","sort":null,"scale":{"paddingInner":0,"paddingOuter":0},"axis":{"title":null,"labelAngle":0,"tickBand":"extent","labelFontSize":12,"labelColor":"#333","domainColor":"#888","tickColor":"#888","tickSize":5,"labelPadding":3}},
   "xOffset":{"field":"g","type":"nominal","sort":["Wildtype","ADAR2"],"scale":{"domain":["Wildtype","ADAR2"],"paddingInner":0.2,"paddingOuter":0.9}}},
  "layer":[
   {"mark":{"type":"bar","strokeWidth":1},
    "encoding":{"y":{"field":"v","type":"quantitative","scale":{"domain":[0,0.1],"nice":false},"axis":{"values":[0,0.01,0.02,0.03,0.04,0.05,0.06,0.07,0.08,0.09,0.1],"format":".2~f","labelOverlap":false,"labelFontSize":12,"labelColor":"#333","domainColor":"#888","tickColor":"#888","tickSize":4,"title":"Average editing level","titleFontSize":11,"titleColor":"#333","labelPadding":3,"titlePadding":8}},
     "color":{"field":"g","type":"nominal","scale":{"domain":["Wildtype","ADAR2"],"range":["#4f81bd","#c0272d"]},"legend":{"orient":"none","legendX":99,"legendY":4,"direction":"horizontal","title":null,"labelFontSize":13,"labelColor":"#222","symbolType":"square","symbolSize":100,"symbolStrokeWidth":1,"symbolStrokeColor":"#333","columnPadding":10,"labelOffset":3,"labelExpr":"datum.label == 'ADAR2' ? 'ADAR2⁻⁄⁻' : datum.label"}},
     "stroke":{"field":"g","type":"nominal","scale":{"domain":["Wildtype","ADAR2"],"range":["#34598a","#7d1a1e"]},"legend":null}}},
   {"mark":{"type":"rule","color":"#111","strokeWidth":1.5},
    "encoding":{"y":{"field":"v","type":"quantitative","axis":{"values":[0,0.01,0.02,0.03,0.04,0.05,0.06,0.07,0.08,0.09,0.1],"format":".2~f","labelOverlap":false,"labelFontSize":12,"labelColor":"#333","domainColor":"#888","tickColor":"#888","tickSize":4,"title":"Average editing level","titleFontSize":11,"titleColor":"#333","labelPadding":3,"titlePadding":8}},"y2":{"field":"hi"}}},
   {"mark":{"type":"tick","color":"#111","size":4,"thickness":1.5},
    "encoding":{"y":{"field":"hi","type":"quantitative","axis":{"values":[0,0.01,0.02,0.03,0.04,0.05,0.06,0.07,0.08,0.09,0.1],"format":".2~f","labelOverlap":false,"labelFontSize":12,"labelColor":"#333","domainColor":"#888","tickColor":"#888","tickSize":4,"title":"Average editing level","titleFontSize":11,"titleColor":"#333","labelPadding":3,"titlePadding":8}}}}
  ]}
],"spacing":71,"resolve":{"scale":{"color":"independent","stroke":"independent","xOffset":"independent"}}},
{"hconcat":[
 {"width":329,"height":189,
  "title":{"text":"f","anchor":"start","frame":"bounds","fontSize":20,"offset":0,"dx":-4},
  "data":{"name":"sf"},
  "encoding":{"x":{"field":"t","type":"nominal","sort":null,"scale":{"paddingInner":0,"paddingOuter":0},"axis":{"title":null,"labelAngle":0,"tickBand":"extent","labelFontSize":12,"labelColor":"#333","domainColor":"#888","tickColor":"#888","tickSize":5,"labelPadding":3}},
   "xOffset":{"field":"g","type":"nominal","sort":["Wildtype","ADAR1"],"scale":{"domain":["Wildtype","ADAR1"],"paddingInner":0.17,"paddingOuter":0.9}}},
  "layer":[
   {"mark":{"type":"bar","strokeWidth":1},
    "encoding":{"y":{"field":"v","type":"quantitative","scale":{"domain":[0,1.8],"nice":false},"axis":{"values":[0,0.2,0.4,0.6,0.8,1,1.2,1.4,1.6,1.8],"format":".1~f","labelOverlap":false,"labelFontSize":12,"labelColor":"#333","domainColor":"#888","tickColor":"#888","tickSize":4,"title":"Normalized ADAR2 expression","titleFontSize":11,"titleColor":"#333","labelPadding":3,"titlePadding":8}},
     "color":{"field":"g","type":"nominal","scale":{"domain":["Wildtype","ADAR1"],"range":["#4f81bd","#c0272d"]},"legend":{"orient":"none","legendX":134,"legendY":-4,"direction":"horizontal","title":null,"labelFontSize":13,"labelColor":"#222","symbolType":"square","symbolSize":100,"symbolStrokeWidth":1,"symbolStrokeColor":"#333","columnPadding":10,"labelOffset":3,"labelExpr":"datum.label == 'ADAR1' ? 'ADAR1ᴱ⁸⁶¹ᴬ⁄ᴱ⁸⁶¹ᴬ' : datum.label"}},
     "stroke":{"field":"g","type":"nominal","scale":{"domain":["Wildtype","ADAR1"],"range":["#34598a","#7d1a1e"]},"legend":null}}},
   {"transform":[{"filter":"isValid(datum.hi)"}],"mark":{"type":"rule","color":"#111","strokeWidth":1.5},
    "encoding":{"y":{"field":"v","type":"quantitative","axis":{"values":[0,0.2,0.4,0.6,0.8,1,1.2,1.4,1.6,1.8],"format":".1~f","labelOverlap":false,"labelFontSize":12,"labelColor":"#333","domainColor":"#888","tickColor":"#888","tickSize":4,"title":"Normalized ADAR2 expression","titleFontSize":11,"titleColor":"#333","labelPadding":3,"titlePadding":8}},"y2":{"field":"hi"}}},
   {"transform":[{"filter":"isValid(datum.hi)"}],"mark":{"type":"tick","color":"#111","size":4,"thickness":1.5},
    "encoding":{"y":{"field":"hi","type":"quantitative","axis":{"values":[0,0.2,0.4,0.6,0.8,1,1.2,1.4,1.6,1.8],"format":".1~f","labelOverlap":false,"labelFontSize":12,"labelColor":"#333","domainColor":"#888","tickColor":"#888","tickSize":4,"title":"Normalized ADAR2 expression","titleFontSize":11,"titleColor":"#333","labelPadding":3,"titlePadding":8}}}}
  ]},
 {"width":328,"height":188,
  "title":{"text":"g","anchor":"start","frame":"bounds","fontSize":20,"offset":0,"dx":-6},
  "data":{"name":"sg"},
  "encoding":{"x":{"field":"t","type":"nominal","sort":null,"scale":{"paddingInner":0,"paddingOuter":0},"axis":{"title":null,"labelAngle":0,"tickBand":"extent","labelFontSize":12,"labelColor":"#333","domainColor":"#888","tickColor":"#888","tickSize":5,"labelPadding":3}},
   "xOffset":{"field":"g","type":"nominal","sort":["Wildtype","ADAR2"],"scale":{"domain":["Wildtype","ADAR2"],"paddingInner":0.17,"paddingOuter":0.95}}},
  "layer":[
   {"mark":{"type":"bar","strokeWidth":1},
    "encoding":{"y":{"field":"v","type":"quantitative","scale":{"domain":[0,1.6],"nice":false},"axis":{"values":[0,0.2,0.4,0.6,0.8,1,1.2,1.4,1.6],"format":".1~f","labelOverlap":false,"labelFontSize":12,"labelColor":"#333","domainColor":"#888","tickColor":"#888","tickSize":4,"title":"Normalized ADAR1 expression","titleFontSize":11,"titleColor":"#333","labelPadding":3,"titlePadding":8}},
     "color":{"field":"g","type":"nominal","scale":{"domain":["Wildtype","ADAR2"],"range":["#4f81bd","#c0272d"]},"legend":{"orient":"none","legendX":104,"legendY":-4,"direction":"horizontal","title":null,"labelFontSize":13,"labelColor":"#222","symbolType":"square","symbolSize":100,"symbolStrokeWidth":1,"symbolStrokeColor":"#333","columnPadding":10,"labelOffset":3,"labelExpr":"datum.label == 'ADAR2' ? 'ADAR2⁻⁄⁻' : datum.label"}},
     "stroke":{"field":"g","type":"nominal","scale":{"domain":["Wildtype","ADAR2"],"range":["#34598a","#7d1a1e"]},"legend":null}}},
   {"mark":{"type":"rule","color":"#111","strokeWidth":1.5},
    "encoding":{"y":{"field":"v","type":"quantitative","axis":{"values":[0,0.2,0.4,0.6,0.8,1,1.2,1.4,1.6],"format":".1~f","labelOverlap":false,"labelFontSize":12,"labelColor":"#333","domainColor":"#888","tickColor":"#888","tickSize":4,"title":"Normalized ADAR1 expression","titleFontSize":11,"titleColor":"#333","labelPadding":3,"titlePadding":8}},"y2":{"field":"hi"}}},
   {"mark":{"type":"tick","color":"#111","size":4,"thickness":1.5},
    "encoding":{"y":{"field":"hi","type":"quantitative","axis":{"values":[0,0.2,0.4,0.6,0.8,1,1.2,1.4,1.6],"format":".1~f","labelOverlap":false,"labelFontSize":12,"labelColor":"#333","domainColor":"#888","tickColor":"#888","tickSize":4,"title":"Normalized ADAR1 expression","titleFontSize":11,"titleColor":"#333","labelPadding":3,"titlePadding":8}}}}
  ]}
],"spacing":24,"resolve":{"scale":{"color":"independent","stroke":"independent","xOffset":"independent"}}},
{"data":{"name":"sh"},
 "title":{"text":"h","anchor":"start","frame":"bounds","fontSize":20,"offset":-22,"dx":-12},
 "facet":{
  "column":{"field":"ti","type":"nominal","sort":["Brain","Heart","Liver","Spleen","Thymus"],"header":{"title":null,"labelFontSize":17,"labelPadding":4,"labelColor":"#222"}},
  "row":{"field":"ge","type":"nominal","sort":["W","K"],"header":{"title":null,"labelFontSize":17,"labelAngle":-90,"labelPadding":6,"labelColor":"#222","labelExpr":"datum.value == 'W' ? 'Wildtype' : 'Adar2⁻⁄⁻'"}}},
 "spacing":{"column":12,"row":8},
 "spec":{"width":50,"height":66,
  "layer":[
   {"transform":[{"filter":"datum.k == 'tr'"}],"mark":{"type":"line","interpolate":"monotone","strokeWidth":1.3},
    "encoding":{"x":{"field":"t","type":"quantitative","scale":{"domain":[0,10],"nice":false},"axis":null},
     "y":{"field":"v","type":"quantitative","scale":{"domain":[0,186],"nice":false},"axis":null},
     "color":{"field":"ch","type":"nominal","scale":{"domain":["T","C","A","G"],"range":["#d62728","#2b3fae","#66bb66","#111111"]},"legend":null}}},
   {"transform":[{"filter":"datum.k == 'lt'"}],"mark":{"type":"text","fontSize":13,"baseline":"alphabetic"},
    "encoding":{"x":{"field":"t","type":"quantitative"},"y":{"field":"v","type":"quantitative"},"text":{"field":"lab"},
     "color":{"condition":{"test":"datum.lab == 'G'","value":"#8c8c8c"},"value":"#80c880"}}}
  ]}}
]
}
